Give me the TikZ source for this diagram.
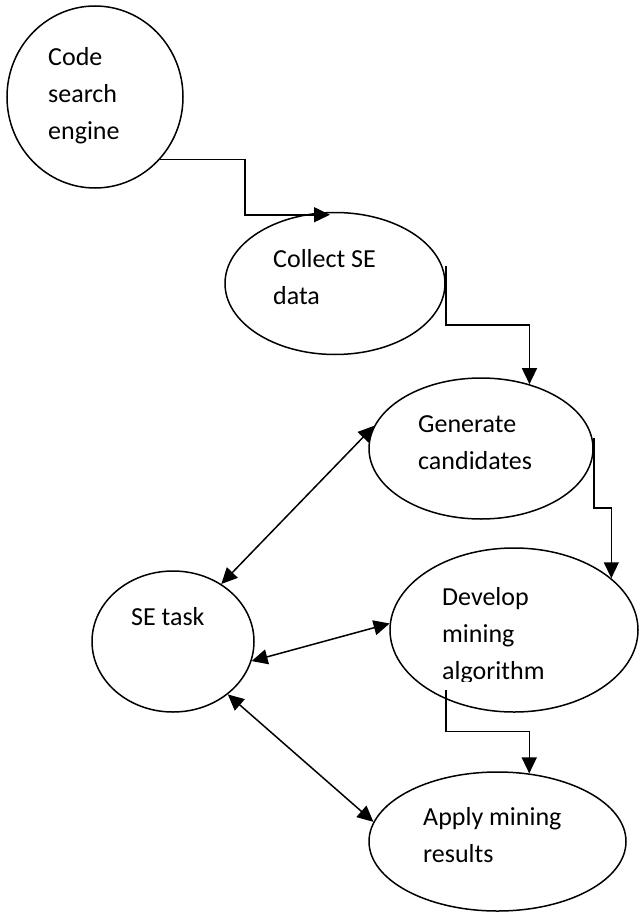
\documentclass[tikz,border=0pt]{standalone}
\usepackage{fontspec}
\setmainfont{Carlito}
\usetikzlibrary{shapes.geometric,arrows.meta,calc}
\begin{document}
\begin{tikzpicture}[x=1pt,y=-1pt,
  bubble/.style={draw,ellipse,line width=1.5pt,inner sep=0pt},
  % multi-line labels are placed by the baseline of their last line
  txt/.style={anchor=base west,inner sep=0pt,align=left,font=\fontsize{26}{37}\selectfont},
  tip/.tip={Triangle[length=16pt,width=15pt]},
  link/.style={line width=1.5pt,-tip},
  both/.style={line width=1.5pt,tip-tip}]
\useasboundingbox (0,0) rectangle (639,912);

% process bubbles
\node[bubble,minimum width=176pt,minimum height=182pt] (code) at (95,97) {};
\node[bubble,minimum width=220pt,minimum height=142pt] (collect) at (335,283.5) {};
\node[bubble,minimum width=224pt,minimum height=141pt] (gen) at (481,448.5) {};
\node[bubble,minimum width=162pt,minimum height=141pt] (task) at (173,641.5) {};
\node[bubble,minimum width=248pt,minimum height=164pt] (dev) at (514,630) {};
\node[bubble,minimum width=257pt,minimum height=139pt] (apply) at (497.5,841.5) {};

% labels
\node[txt] (codet) at (48,140) {Code\\search\\engine};
\node[txt] (collectt) at (273,304) {Collect SE\\data};
\node[txt] (gent) at (418,469) {Generate\\candidates};
\node[txt] (taskt) at (131,625) {SE task};
\begin{scope}
  \clip (430,560) rectangle (600,681);
  \node[txt] (devt) at (442,679) {Develop\\mining\\algorithm};
\end{scope}
\node[txt] (applyt) at (423,862) {Apply mining\\results};

% elbow connectors along the pipeline
\coordinate (collectin) at ($(collect.north)+(-5,3)$);
\draw[link] (code.-44) -| ($(code.-44)!.5!(collectin)$) |- (collectin);

\coordinate (collectout) at ($(collect.east)+(0,-18)$);
\draw[link] (collectout) |- ($(collectout)!.5!(gen.53.5)$) -| (gen.53.5);

\coordinate (genout) at ($(gen.east)+(0,-11)$);
\draw[link] (genout) |- ($(genout)!.5!(dev.28.4)$) -| (dev.28.4);

\coordinate (devout) at ($(dev.center)+(-68,60)$);
\draw[link] (devout) |- ($(devout)!.5!(apply.65)$) -| (apply.65);

% two-way links with the SE task
\draw[both] (task.50) -- (gen.168.3);
\draw[both] (task.-14.8) -- (dev.177);
\draw[both] (task.-44) -- (apply.171.5);
\end{tikzpicture}
\end{document}
